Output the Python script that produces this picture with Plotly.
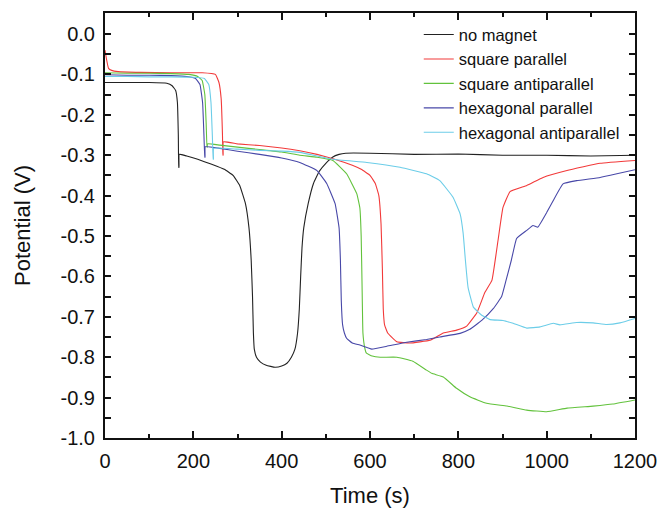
import plotly.graph_objects as go

# ---- data (time in s, potential in V) ----
t_no_magnet = [0, 50, 100, 140, 152, 160, 164, 166, 167, 167.5, 168, 185, 210, 240, 270, 290, 305, 318, 326, 331, 334, 336, 338, 343, 352, 365, 385, 400, 412, 422, 430, 436, 440, 443, 446, 450, 460, 472, 485, 500, 515, 530, 545, 600, 700, 800, 900, 1000, 1100, 1200]
v_no_magnet = [-0.12, -0.12, -0.12, -0.122, -0.128, -0.14, -0.17, -0.25, -0.33, -0.33, -0.298, -0.302, -0.31, -0.322, -0.335, -0.35, -0.375, -0.42, -0.48, -0.56, -0.65, -0.74, -0.78, -0.80, -0.812, -0.82, -0.825, -0.822, -0.815, -0.80, -0.78, -0.74, -0.68, -0.60, -0.53, -0.48, -0.42, -0.37, -0.34, -0.32, -0.305, -0.298, -0.295, -0.295, -0.298, -0.297, -0.30, -0.30, -0.302, -0.30]

t_sq_par = [0, 3, 8, 15, 30, 80, 150, 220, 250, 258, 263, 266, 267, 267.5, 268, 300, 350, 400, 441, 480, 520, 560, 580, 600, 612, 620, 625, 628, 630, 633, 640, 661, 690, 736, 766, 796, 819, 842, 860, 876, 890, 901, 917, 955, 992, 1046, 1121, 1200]
v_sq_par = [-0.04, -0.06, -0.085, -0.09, -0.093, -0.095, -0.096, -0.096, -0.1, -0.12, -0.16, -0.25, -0.30, -0.30, -0.267, -0.272, -0.276, -0.282, -0.289, -0.298, -0.31, -0.325, -0.335, -0.35, -0.37, -0.40, -0.47, -0.58, -0.68, -0.72, -0.74, -0.762, -0.765, -0.758, -0.74, -0.733, -0.723, -0.69, -0.64, -0.61, -0.51, -0.43, -0.39, -0.375, -0.355, -0.338, -0.32, -0.313]

t_sq_anti = [0, 50, 100, 150, 190, 210, 220, 226, 229, 231, 231.5, 232, 260, 300, 350, 400, 441, 480, 516, 547, 570, 577, 580, 582, 584, 588, 592, 605, 623, 661, 697, 728, 740, 766, 796, 826, 864, 910, 955, 1000, 1046, 1105, 1150, 1200]
v_sq_anti = [-0.096, -0.097, -0.097, -0.098, -0.1, -0.105, -0.115, -0.15, -0.22, -0.28, -0.28, -0.272, -0.275, -0.28, -0.286, -0.292, -0.30, -0.305, -0.313, -0.346, -0.395, -0.43, -0.50, -0.62, -0.74, -0.776, -0.79, -0.797, -0.80, -0.80, -0.81, -0.832, -0.84, -0.849, -0.877, -0.898, -0.914, -0.921, -0.931, -0.935, -0.926, -0.921, -0.916, -0.906]

t_hex_par = [0, 50, 100, 150, 185, 205, 215, 221, 224, 226, 226.5, 227, 260, 300, 350, 400, 441, 480, 502, 521, 530, 533, 535, 538, 542, 547, 560, 577, 604, 638, 683, 728, 758, 804, 826, 853, 879, 898, 908, 920, 932, 955, 969, 980, 1000, 1015, 1037, 1068, 1121, 1159, 1200]
v_hex_par = [-0.101, -0.102, -0.102, -0.103, -0.105, -0.11, -0.125, -0.17, -0.25, -0.305, -0.305, -0.279, -0.283, -0.29, -0.298, -0.307, -0.318, -0.338, -0.37, -0.42, -0.48, -0.56, -0.66, -0.72, -0.74, -0.753, -0.765, -0.77, -0.78, -0.773, -0.763, -0.756, -0.75, -0.741, -0.731, -0.709, -0.68, -0.65, -0.61, -0.56, -0.506, -0.486, -0.474, -0.478, -0.442, -0.412, -0.371, -0.363, -0.355, -0.346, -0.336]

t_hex_anti = [0, 50, 100, 150, 200, 225, 235, 240, 243, 245, 245.5, 246, 300, 350, 400, 441, 516, 593, 668, 728, 758, 788, 804, 811, 816, 822, 834, 853, 872, 901, 924, 955, 985, 1015, 1030, 1068, 1105, 1136, 1166, 1200]
v_hex_anti = [-0.105, -0.105, -0.106, -0.106, -0.107, -0.11, -0.125, -0.17, -0.25, -0.31, -0.31, -0.283, -0.285, -0.288, -0.29, -0.293, -0.31, -0.318, -0.33, -0.346, -0.363, -0.404, -0.445, -0.494, -0.56, -0.627, -0.676, -0.696, -0.707, -0.709, -0.716, -0.728, -0.725, -0.716, -0.72, -0.714, -0.715, -0.719, -0.715, -0.704]

x_tick_vals = [0, 200, 400, 600, 800, 1000, 1200]
x_tick_text = ["0", "200", "400", "600", "800", "1000", "1200"]
y_tick_vals = [0.0, -0.1, -0.2, -0.3, -0.4, -0.5, -0.6, -0.7, -0.8, -0.9, -1.0]
y_tick_text = ["0.0", "-0.1", "-0.2", "-0.3", "-0.4", "-0.5", "-0.6", "-0.7", "-0.8", "-0.9", "-1.0"]

series = [
    ("no magnet", t_no_magnet, v_no_magnet, "#222222"),
    ("square parallel", t_sq_par, v_sq_par, "#f23a3a"),
    ("square antiparallel", t_sq_anti, v_sq_anti, "#62c23c"),
    ("hexagonal parallel", t_hex_par, v_hex_par, "#4848a8"),
    ("hexagonal antiparallel", t_hex_anti, v_hex_anti, "#6ccde8"),
]

fig = go.Figure()
for name, t, v, c in series:
    fig.add_trace(go.Scatter(x=t, y=v, mode="lines", name=name,
                             line=dict(color=c, width=1.1, shape="spline", smoothing=0.3)))

FONT = "Liberation Sans, Arial, sans-serif"
axis_font = dict(family=FONT, size=20, color="#111")
fig.update_layout(
    width=660, height=511,
    margin=dict(l=105, r=25, t=13, b=73),
    paper_bgcolor="white", plot_bgcolor="white",
    font=dict(family=FONT, color="#111"),
    showlegend=True,
    legend=dict(x=0.592, y=0.99, xanchor="left", yanchor="top",
                bgcolor="rgba(0,0,0,0)", borderwidth=0,
                font=dict(size=16.5, color="#111"), tracegroupgap=0),
    xaxis=dict(range=[0, 1200], tickmode="array", automargin=False,
               tickvals=x_tick_vals, ticktext=x_tick_text,
               ticks="inside", ticklen=7, tickwidth=1.5, tickcolor="#111",
               minor=dict(ticks="inside", ticklen=4, dtick=100, tickcolor="#111", tickwidth=1.5),
               showline=True, linecolor="#111", linewidth=2, mirror="allticks",
               showgrid=False, zeroline=False, tickfont=axis_font, ticklabelstandoff=4,
               title=dict(text="Time (s)", font=dict(size=22, color="#111"), standoff=17)),
    yaxis=dict(range=[-1.0, 0.052], tickmode="array", automargin=False,
               tickvals=y_tick_vals, ticktext=y_tick_text,
               ticks="inside", ticklen=6, tickwidth=1.5, tickcolor="#111",
               minor=dict(ticks="inside", ticklen=6, dtick=0.05, tick0=0, tickcolor="#111", tickwidth=1.5),
               showline=True, linecolor="#111", linewidth=2, mirror="allticks",
               showgrid=False, zeroline=False, tickfont=axis_font, ticklabelstandoff=4,
               title=dict(text="Potential (V)", font=dict(size=22, color="#111"), standoff=24)),
)

fig.write_html("out.html")
